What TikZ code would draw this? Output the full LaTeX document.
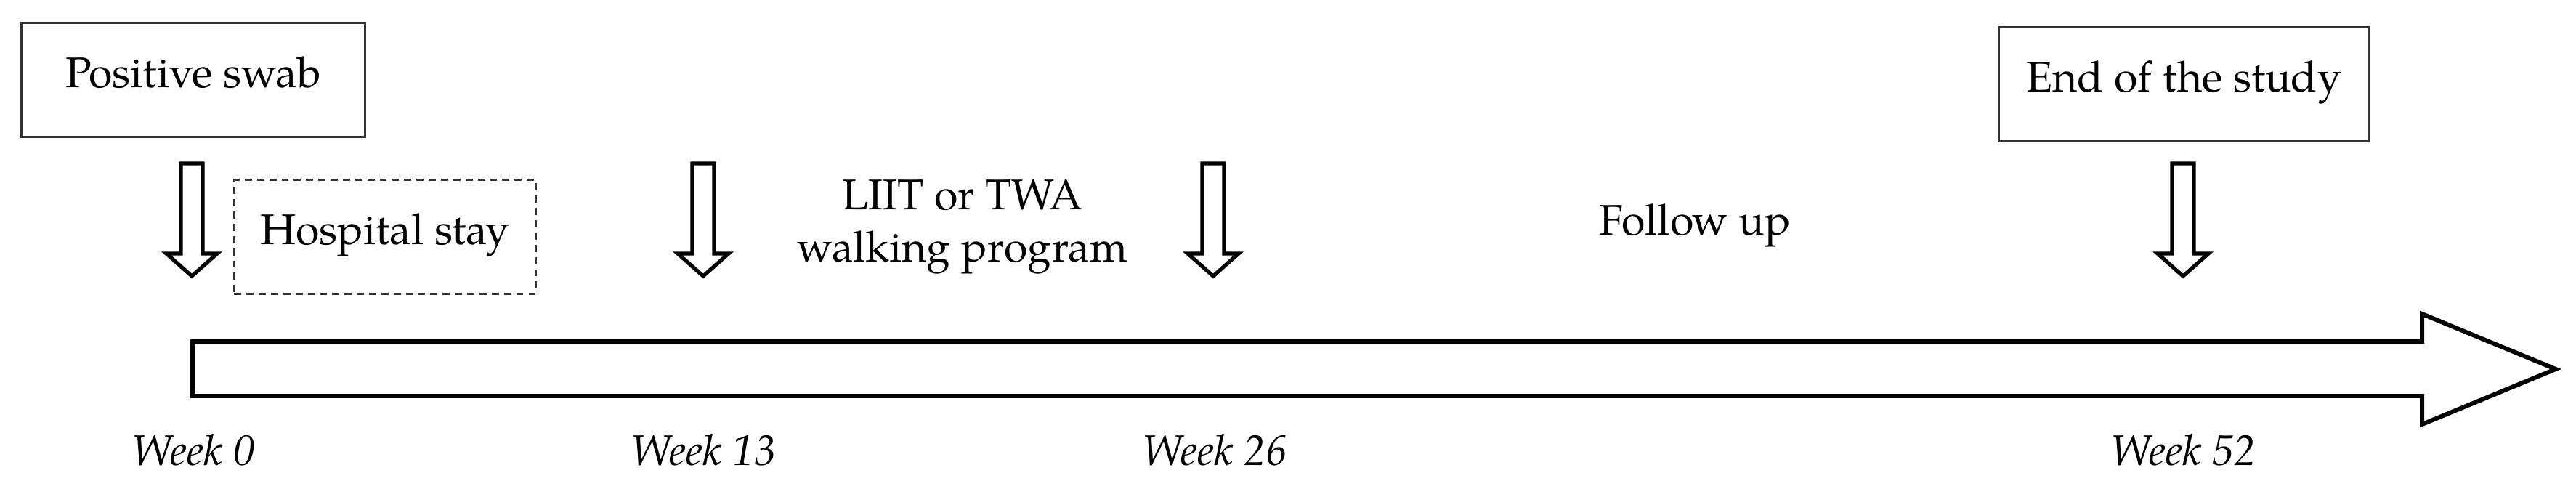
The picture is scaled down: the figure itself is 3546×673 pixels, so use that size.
\documentclass[tikz,border=0pt]{standalone}
\usepackage{fontspec}
\setmainfont{TeX Gyre Pagella}
\begin{document}
\begin{tikzpicture}[x=0.01cm,y=-0.01cm,
  every node/.style={inner sep=0pt,font=\fontsize{16.8pt}{20.5pt}\selectfont},
  labelbox/.style={draw=black!80,line width=0.85pt,text height=0.83em,text depth=0.25em},
  dashbox/.style={labelbox,dash pattern=on 2.8pt off 2pt},
  arrowline/.style={draw=black,fill=white,line width=1.5pt,line join=miter},
  barline/.style={draw=black,fill=white,line width=1.7pt,line join=miter},
  weeklabel/.style={anchor=base,font=\fontsize{16.8pt}{20.5pt}\selectfont\itshape},
  downarr/.pic={\draw[arrowline] (-15,225) -- (15,225) -- (15,349) -- (35,349) -- (0,380) -- (-35,349) -- (-15,349) -- cycle;}
]
\useasboundingbox (0,0) rectangle (3546,673);

% boxes
\node[labelbox,minimum width=4.72cm,minimum height=1.57cm] (swab) at (266,110) {Positive swab};
\node[labelbox,minimum width=5.09cm,minimum height=1.56cm] (end) at (3006,116) {End of the study};
\node[dashbox,minimum width=4.15cm,minimum height=1.56cm] (hosp) at (530,326) {Hospital stay};

% small down arrows
\pic (a0) at (264,0) {downarr};
\pic (a13) at (968,0) {downarr};
\pic (a26) at (1670,0) {downarr};
\pic (a52) at (3005,0) {downarr};

% texts
\node[anchor=north,align=center] (liit) at (1325,246) {LIIT or TWA\\walking program};
\node[anchor=base] (follow) at (2333,323) {Follow up};

% timeline arrow
\draw[barline] (265,470) -- (3334,470) -- (3334,432) -- (3518,508) -- (3334,584) -- (3334,545) -- (265,545) -- cycle;

% week labels
\node[weeklabel] (w0) at (266,640) {Week 0};
\node[weeklabel] (w13) at (968,640) {Week 13};
\node[weeklabel] (w26) at (1672,640) {Week 26};
\node[weeklabel] (w52) at (3005,640) {Week 52};
\end{tikzpicture}
\end{document}
